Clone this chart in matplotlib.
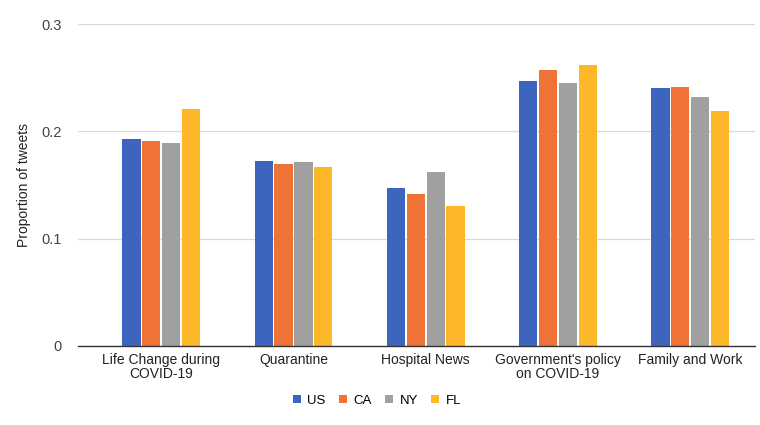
import numpy as np
import matplotlib.pyplot as plt

plt.rcParams['font.family'] = ['Liberation Sans', 'DejaVu Sans']

categories = ["Life Change during\nCOVID-19", "Quarantine", "Hospital News",
              "Government's policy\non COVID-19", "Family and Work"]
series = ["US", "CA", "NY", "FL"]
us = [0.193, 0.172, 0.147, 0.247, 0.240]
ca = [0.191, 0.170, 0.142, 0.257, 0.241]
ny = [0.189, 0.171, 0.162, 0.245, 0.232]
fl = [0.221, 0.167, 0.130, 0.262, 0.219]
colors = ["#3d65be", "#ef7336", "#a0a0a0", "#fcb829"]

fig = plt.figure(figsize=(7.6, 4.25), dpi=100)
ax = fig.add_axes([0.1026, 0.186, 0.8908, 0.7575])

x = np.arange(len(categories))
step = 0.15
width = 0.138
for i, (name, vals, c) in enumerate(zip(series, [us, ca, ny, fl], colors)):
    ax.bar(x + (i - 1.5) * step, vals, width, color=c, label=name, zorder=3)

ax.set_xlim(-0.63, 4.49)
ax.set_ylim(0, 0.3)
ax.set_yticks([0, 0.1, 0.2, 0.3])
ax.set_yticklabels(["0", "0.1", "0.2", "0.3"])
ax.set_xticks(x)
ax.set_xticklabels(categories, fontsize=10, color="#222222", linespacing=1.0)
ax.tick_params(axis="y", labelsize=10.5, colors="#444444", length=0, pad=12)
ax.tick_params(axis="x", length=0, pad=5)
ax.grid(axis="y", color="#d9d9d9", linewidth=0.9, zorder=0)
for s in ["top", "right", "left"]:
    ax.spines[s].set_visible(False)
ax.spines["bottom"].set_color("#333333")
ax.spines["bottom"].set_linewidth(1.0)
ax.spines["bottom"].set_zorder(4)

fig.text(0.032, 0.565, "Proportion of tweets", rotation=90, ha="center", va="center",
         fontsize=10, color="#222222")

fig.legend(loc="center", bbox_to_anchor=(0.496, 0.057), ncol=4, frameon=False,
           fontsize=9.5, handlelength=0.6, handleheight=0.6, handletextpad=0.5,
           columnspacing=1.0)

fig.savefig("out.png", dpi=100)
